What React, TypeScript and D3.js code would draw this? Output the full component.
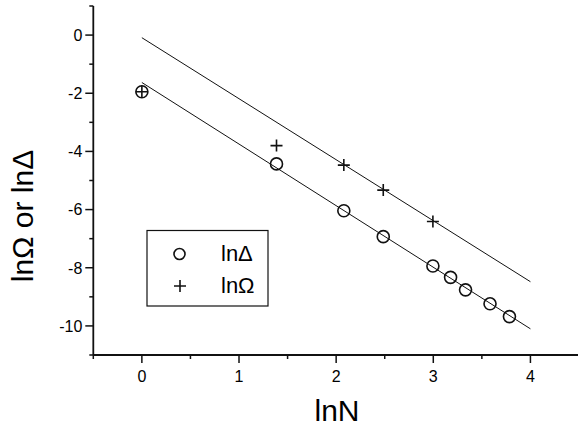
import React, { useEffect, useRef } from "react";
import * as d3 from "d3";

// x values are lnN for N = 1, 4, 8, 12, 20, 24, 28, 36, 44
const deltaX = [0, 1.386, 2.079, 2.485, 2.996, 3.178, 3.332, 3.584, 3.784];
const deltaY = [-1.95, -4.43, -6.04, -6.93, -7.94, -8.33, -8.76, -9.24, -9.68];

const omegaX = [0, 1.386, 2.079, 2.485, 2.996];
const omegaY = [-1.95, -3.8, -4.47, -5.33, -6.41];

// fitted straight lines (end points)
const fitX = [0, 4];
const deltaFitY = [-1.63, -10.1];
const omegaFitY = [-0.09, -8.48];

const xTicks = [0, 1, 2, 3, 4];
const xMinor = [-0.5, 0.5, 1.5, 2.5, 3.5];
const yTicks = [0, -2, -4, -6, -8, -10];
const yMinor = [1, -1, -3, -5, -7, -9, -11];

const legendLabels = ["lnΔ", "lnΩ"];

const W = 578;
const H = 429;
const font = "'Liberation Sans', Arial, Helvetica, sans-serif";

export default function App() {
  const ref = useRef<SVGSVGElement>(null);

  useEffect(() => {
    const svg = d3.select(ref.current);
    svg.selectAll("*").remove();

    const x = d3.scaleLinear().domain([-0.5, 4.5]).range([93.3, 579]);
    const y = d3.scaleLinear().domain([1, -11]).range([6, 355]);

    const x0 = x(-0.5);
    const yBase = y(-11);

    // axes (only left and bottom)
    svg.append("line")
      .attr("x1", x0).attr("x2", x0)
      .attr("y1", y(1)).attr("y2", yBase)
      .attr("stroke", "#111").attr("stroke-width", 1.8);
    svg.append("line")
      .attr("x1", x0).attr("x2", W)
      .attr("y1", yBase).attr("y2", yBase)
      .attr("stroke", "#111").attr("stroke-width", 1.8);

    // y ticks
    svg.selectAll(".ytick").data(yTicks).join("line")
      .attr("x1", x0 - 8).attr("x2", x0)
      .attr("y1", d => y(d)).attr("y2", d => y(d))
      .attr("stroke", "#111").attr("stroke-width", 1.5);
    svg.selectAll(".yminor").data(yMinor).join("line")
      .attr("x1", x0 - 4).attr("x2", x0)
      .attr("y1", d => y(d)).attr("y2", d => y(d))
      .attr("stroke", "#111").attr("stroke-width", 1.5);
    svg.selectAll(".ylab").data(yTicks).join("text")
      .attr("x", x0 - 11).attr("y", d => y(d))
      .attr("dy", "0.36em")
      .attr("text-anchor", "end")
      .attr("font-family", font).attr("font-size", 16)
      .text(d => d3.format("d")(d).replace("−", "-"));

    // x ticks
    svg.selectAll(".xtick").data(xTicks).join("line")
      .attr("x1", d => x(d)).attr("x2", d => x(d))
      .attr("y1", yBase).attr("y2", yBase + 8)
      .attr("stroke", "#111").attr("stroke-width", 1.5);
    svg.selectAll(".xminor").data(xMinor).join("line")
      .attr("x1", d => x(d)).attr("x2", d => x(d))
      .attr("y1", yBase).attr("y2", yBase + 4)
      .attr("stroke", "#111").attr("stroke-width", 1.5);
    svg.selectAll(".xlab").data(xTicks).join("text")
      .attr("x", d => x(d)).attr("y", yBase + 27)
      .attr("text-anchor", "middle")
      .attr("font-family", font).attr("font-size", 16)
      .text(d => String(d));

    // axis titles
    svg.append("text")
      .attr("x", 337).attr("y", 421)
      .attr("text-anchor", "middle")
      .attr("font-family", font).attr("font-size", 30)
      .text("lnN");
    svg.append("text")
      .attr("transform", "translate(33,216) rotate(-90)")
      .attr("text-anchor", "middle")
      .attr("font-family", font).attr("font-size", 30)
      .text("lnΩ or lnΔ");

    // fit lines
    const line = d3.line<[number, number]>().x(d => x(d[0])).y(d => y(d[1]));
    [deltaFitY, omegaFitY].forEach(fy => {
      svg.append("path")
        .attr("d", line(fitX.map((v, i) => [v, fy[i]] as [number, number])))
        .attr("fill", "none").attr("stroke", "#111").attr("stroke-width", 1);
    });

    // circles (lnΔ)
    svg.selectAll(".circ").data(deltaX).join("circle")
      .attr("cx", d => x(d)).attr("cy", (d, i) => y(deltaY[i]))
      .attr("r", 6)
      .attr("fill", "none").attr("stroke", "#111").attr("stroke-width", 1.6);

    // pluses (lnΩ)
    const plus = (cx: number, cy: number, s: number) =>
      `M${cx - s},${cy}H${cx + s}M${cx},${cy - s}V${cy + s}`;
    svg.selectAll(".plus").data(omegaX).join("path")
      .attr("d", (d, i) => plus(x(d), y(omegaY[i]), 6))
      .attr("stroke", "#111").attr("stroke-width", 1.6).attr("fill", "none");

    // legend
    svg.append("rect")
      .attr("x", 147).attr("y", 230.5).attr("width", 121).attr("height", 75.5)
      .attr("fill", "none").attr("stroke", "#111").attr("stroke-width", 1.2);
    svg.append("circle")
      .attr("cx", 179.5).attr("cy", 254)
      .attr("r", 5.5)
      .attr("fill", "none").attr("stroke", "#111").attr("stroke-width", 1.6);
    svg.append("path")
      .attr("d", plus(180, 286, 6))
      .attr("stroke", "#111").attr("stroke-width", 1.6);
    svg.selectAll(".leg").data(legendLabels).join("text")
      .attr("x", 221).attr("y", (d, i) => 261 + i * 32)
      .attr("font-family", font).attr("font-size", 22)
      .text(d => d);
  }, []);

  return (
    <svg
      ref={ref}
      width={W}
      height={H}
      style={{ position: "absolute", left: 0, top: 0, background: "#fff" }}
    />
  );
}
